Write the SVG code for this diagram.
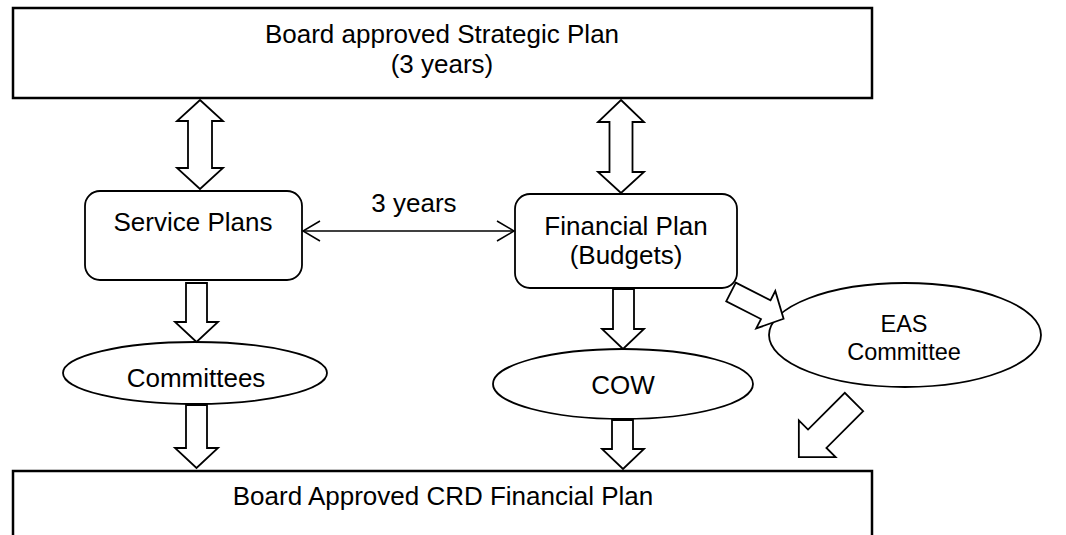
<svg xmlns="http://www.w3.org/2000/svg" width="1066" height="535" viewBox="0 0 1066 535">
<style>
.box{fill:#fff;stroke:#000;stroke-width:2.5}
.rr{fill:#fff;stroke:#000;stroke-width:1.8}
.el{fill:#fff;stroke:#000;stroke-width:1.8}
.ar{fill:#fff;stroke:#000;stroke-width:1.8;stroke-linejoin:miter}
.ln{fill:none;stroke:#000;stroke-width:1.5}
text{font-family:"Liberation Sans",Arial,sans-serif;font-size:26px;fill:#000;text-anchor:middle}
.sm{font-size:23.5px}
</style>
<rect width="1066" height="535" fill="#fff"/>
<g id="strategic">
<rect class="box" x="13" y="8" width="859" height="90"/>
<text x="442" y="43">Board approved Strategic Plan</text>
<text x="442" y="73">(3 years)</text>
</g>
<g id="final">
<rect class="box" x="13" y="471" width="859" height="80"/>
<text x="443" y="505">Board Approved CRD Financial Plan</text>
</g>
<g id="service">
<rect class="rr" x="85" y="191" width="217" height="89" rx="15"/>
<text x="193" y="231">Service Plans</text>
</g>
<g id="financial">
<rect class="rr" x="515" y="194" width="222" height="94" rx="15"/>
<text x="626" y="235">Financial Plan</text>
<text x="626" y="264">(Budgets)</text>
</g>
<g id="committees">
<ellipse class="el" cx="195" cy="373" rx="132" ry="31"/>
<text x="196" y="387">Committees</text>
</g>
<g id="cow">
<ellipse class="el" cx="623" cy="384" rx="130" ry="35"/>
<text x="623" y="394">COW</text>
</g>
<g id="eas">
<ellipse class="el" cx="905" cy="335" rx="136" ry="52"/>
<text class="sm" x="904" y="332">EAS</text>
<text class="sm" x="904" y="360">Committee</text>
</g>
<g id="connectors">
<polygon class="ar" points="200,100 223,121 212,121 212,168 223,168 200,189 177,168 188,168 188,121 177,121"/>
<polygon class="ar" points="621,100 644,122 632.5,122 632.5,172 644,172 621,193 598,172 609.5,172 609.5,122 598,122"/>
<line class="ln" x1="303" y1="231" x2="514" y2="231"/>
<polyline class="ln" points="320,221 303,231 320,241"/>
<polyline class="ln" points="497,221 514,231 497,241"/>
<text x="414" y="212">3 years</text>
<polygon class="ar" points="186,283 207,283 207,322 218,322 196.5,342 175,322 186,322"/>
<polygon class="ar" points="186,405 207,405 207,448 218,448 196.5,468 175,448 186,448"/>
<polygon class="ar" points="613,289 634,289 634,329 644,329 623,349 602,329 613,329"/>
<polygon class="ar" points="612,420 633,420 633,449 644,449 623,469 602,449 612,449"/>
<polygon class="ar" transform="translate(731,292) rotate(27)" points="0,-10.5 39,-10.5 39,-21 59,0 39,21 39,10.5 0,10.5"/>
<polygon class="ar" transform="translate(854,402) rotate(135)" points="0,-13 52,-13 52,-26 78,0 52,26 52,13 0,13"/>
</g>
</svg>
